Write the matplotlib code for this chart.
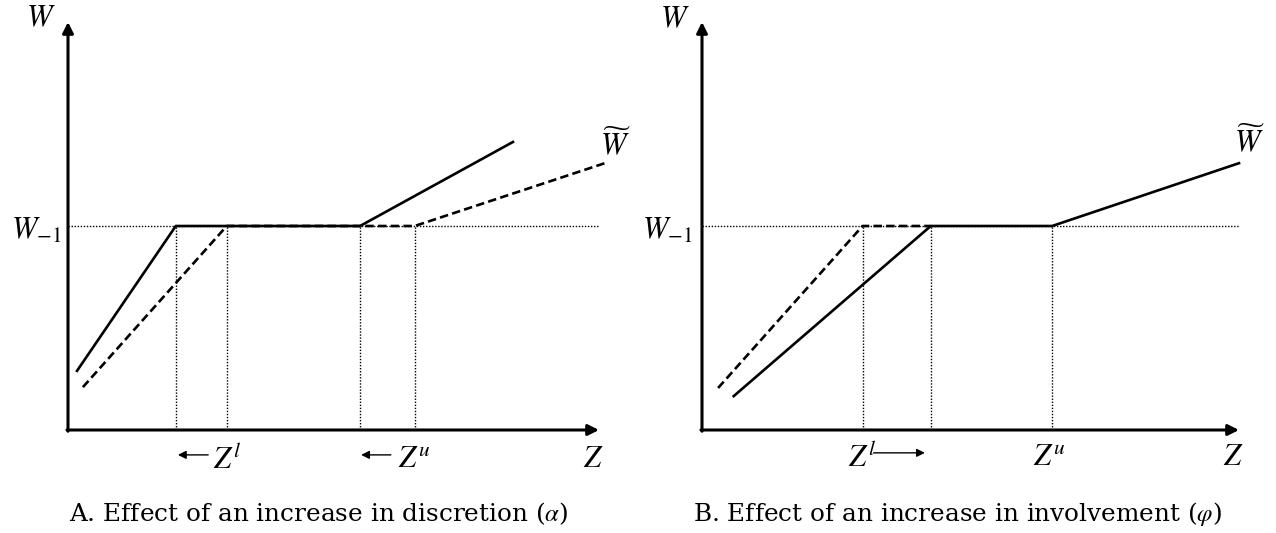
import matplotlib
matplotlib.use("Agg")
import matplotlib.pyplot as plt

plt.rcParams['mathtext.fontset'] = 'stix'

# ---- data (Z, W in diagram units; axes run 0..10) ----
W_prev = 5.0  # W_{-1}

# Panel A: increase in discretion
a_solid_z = [0.17, 2.03, 5.50, 8.38]
a_solid_w = [1.45, 5.0, 5.0, 7.06]
a_dash_z = [0.28, 2.99, 6.53, 10.11]
a_dash_w = [1.05, 5.0, 5.0, 6.54]
a_vlines = [2.03, 2.99, 5.50, 6.53]

# Panel B: increase in involvement
b_solid_z = [0.59, 4.26, 6.52, 10.0]
b_solid_w = [0.83, 5.0, 5.0, 6.54]
b_dash_z = [0.30, 2.99, 4.26]
b_dash_w = [1.03, 5.0, 5.0]
b_vlines = [2.99, 4.26, 6.52]

captions = ["A. Effect of an increase in discretion ($\\alpha$)",
            "B. Effect of an increase in involvement ($\\varphi$)"]

W, H = 1276, 533
fig = plt.figure(figsize=(W / 100, H / 100), dpi=100)


def make_axes(ox, oy, wpx, hpx):
    ax = fig.add_axes([ox / W, (H - oy) / H, wpx / W, hpx / H])
    ax.set_xlim(0, 10)
    ax.set_ylim(0, 10)
    ax.axis('off')
    # axes arrows
    ax.annotate('', xy=(10, 0), xytext=(-0.02, 0),
                arrowprops=dict(arrowstyle='-|>', lw=2.2, color='k',
                                mutation_scale=16, shrinkA=0, shrinkB=0),
                annotation_clip=False)
    ax.annotate('', xy=(0, 10), xytext=(0, -0.03),
                arrowprops=dict(arrowstyle='-|>', lw=2.2, color='k',
                                mutation_scale=16, shrinkA=0, shrinkB=0),
                annotation_clip=False)
    ax.plot([0, 10], [W_prev, W_prev], color='k', lw=1.0,
            ls=(0, (1, 1.2)), clip_on=False)
    return ax


def small_arrow(ax, z0, z1, w):
    ax.annotate('', xy=(z1, w), xytext=(z0, w),
                arrowprops=dict(arrowstyle='-|>', lw=1.0, color='k',
                                mutation_scale=12, shrinkA=0, shrinkB=0),
                annotation_clip=False)


mfs = 22
dash = (0, (3.2, 1.6))

# ---------- Panel A ----------
axA = make_axes(68, 430, 531, 408)
for z in a_vlines:
    axA.plot([z, z], [0, W_prev], color='k', lw=1.0, ls=(0, (1, 1.2)), clip_on=False)
axA.plot(a_dash_z, a_dash_w, color='k', lw=1.9, ls=dash, clip_on=False)
axA.plot(a_solid_z, a_solid_w, color='k', lw=1.9, clip_on=False)
axA.text(-0.51, 10.1, '$W$', fontsize=mfs, ha='center', va='center')
axA.text(-0.12, W_prev - 0.12, '$W_{-1}$', fontsize=mfs, ha='right', va='center')
axA.text(10.3, 7.0, '$\\widetilde{W}$', fontsize=mfs, ha='center', va='center')
axA.text(9.89, -0.69, '$Z$', fontsize=mfs, ha='center', va='center')
axA.text(2.73, -0.72, '$Z^l$', fontsize=mfs, ha='left', va='center')
small_arrow(axA, 2.64, 2.07, -0.61)
axA.text(6.21, -0.72, '$Z^u$', fontsize=mfs, ha='left', va='center')
small_arrow(axA, 6.08, 5.52, -0.61)

# ---------- Panel B ----------
axB = make_axes(702, 430, 537, 408)
for z in b_vlines:
    axB.plot([z, z], [0, W_prev], color='k', lw=1.0, ls=(0, (1, 1.2)), clip_on=False)
axB.plot(b_dash_z, b_dash_w, color='k', lw=1.9, ls=dash, clip_on=False)
axB.plot(b_solid_z, b_solid_w, color='k', lw=1.9, clip_on=False)
axB.text(-0.50, 10.07, '$W$', fontsize=mfs, ha='center', va='center')
axB.text(-0.17, W_prev - 0.12, '$W_{-1}$', fontsize=mfs, ha='right', va='center')
axB.text(10.2, 7.08, '$\\widetilde{W}$', fontsize=mfs, ha='center', va='center')
axB.text(9.89, -0.64, '$Z$', fontsize=mfs, ha='center', va='center')
axB.text(2.72, -0.67, '$Z^l$', fontsize=mfs, ha='left', va='center')
small_arrow(axB, 3.2, 4.15, -0.56)
axB.text(6.16, -0.67, '$Z^u$', fontsize=mfs, ha='left', va='center')

# ---------- captions ----------
fig.text(319 / W, 1 - 514 / H, captions[0], fontsize=17.8, family='DejaVu Serif',
         ha='center', va='center')
fig.text(957 / W, 1 - 514 / H, captions[1], fontsize=17.8, family='DejaVu Serif',
         ha='center', va='center')

fig.savefig('out.png', dpi=100, facecolor='white')
